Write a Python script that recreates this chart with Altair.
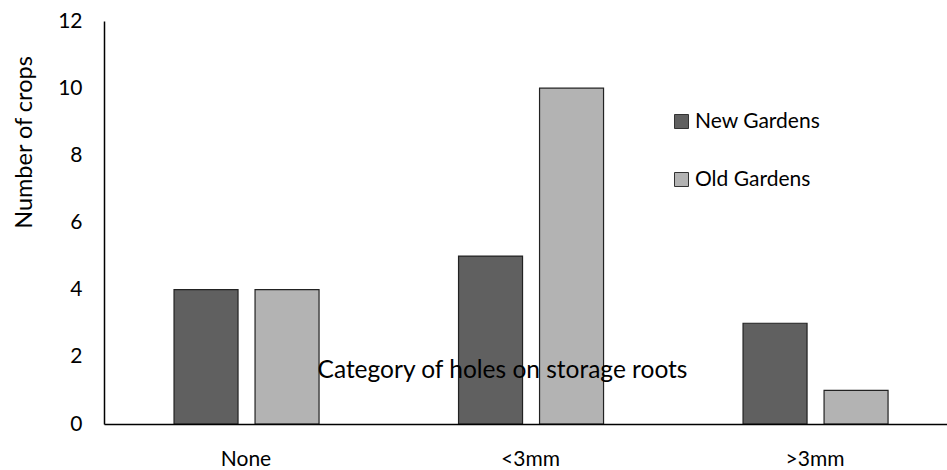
import altair as alt
import pandas as pd

# Crop counts by category of holes on storage roots
categories = ["None", "<3mm", ">3mm"]
series = ["New Gardens", "Old Gardens"]
new_gardens = [4, 5, 3]
old_gardens = [4, 10, 1]
y_ticks = [0, 2, 4, 6, 8, 10, 12]
bar_colors = ["#606060", "#b3b3b3"]

rows = []
for cat, n, o in zip(categories, new_gardens, old_gardens):
    rows.append({"category": cat, "series": series[0], "crops": n})
    rows.append({"category": cat, "series": series[1], "crops": o})
df = pd.DataFrame(rows)

FONT = "Lato"
W, H = 843, 403

bars = alt.Chart(df).mark_bar(stroke="#222222", strokeWidth=1.2).encode(
    x=alt.X(
        "category:N",
        sort=categories,
        scale=alt.Scale(paddingInner=0.037, paddingOuter=0),
        axis=alt.Axis(
            title="Category of holes on storage roots",
            labelAngle=0,
            ticks=False,
            labelPadding=24,
            labelOffset=5,
            labelFont=FONT,
            labelFontSize=21,
            labelColor="#000000",
            domainColor="#000000",
            domainWidth=1.5,
            titleFont=FONT,
            titleFontSize=24.5,
            titleFontWeight="normal",
            titleColor="#000000",
            titleX=398,
            titleY=-54,
            titleAlign="center",
            titleBaseline="middle",
            zindex=1,
        ),
    ),
    xOffset=alt.XOffset(
        "series:N",
        sort=series,
        scale=alt.Scale(paddingInner=0.21, paddingOuter=0.796, align=0.543),
    ),
    y=alt.Y(
        "crops:Q",
        scale=alt.Scale(domain=[0, 12], nice=False),
        axis=alt.Axis(
            title="Number of crops",
            values=y_ticks,
            grid=False,
            ticks=False,
            labelPadding=22,
            labelFont=FONT,
            labelFontSize=21,
            labelColor="#000000",
            domainColor="#000000",
            domainWidth=1.5,
            titleFont=FONT,
            titleFontSize=23.5,
            titleFontWeight="normal",
            titleColor="#000000",
            titleX=-80,
            titleY=121,
            titleAlign="center",
            titleBaseline="middle",
        ),
    ),
    color=alt.Color(
        "series:N",
        sort=series,
        scale=alt.Scale(domain=series, range=bar_colors),
        legend=alt.Legend(
            title=None,
            orient="none",
            legendX=567,
            legendY=90,
            symbolType="square",
            symbolSize=196,
            symbolStrokeColor="#333333",
            symbolStrokeWidth=1,
            symbolOpacity=1,
            labelFont=FONT,
            labelFontSize=21,
            labelColor="#000000",
            labelOffset=3,
            rowPadding=36,
        ),
    ),
)

chart = bars.properties(
    width=W,
    height=H,
    padding={"left": 104, "top": 21, "right": 0, "bottom": 46},
    autosize=alt.AutoSizeParams(type="none"),
    background="#ffffff",
).configure_view(stroke=None)

chart.save("out.html", embed_options={"renderer": "svg", "actions": False})
